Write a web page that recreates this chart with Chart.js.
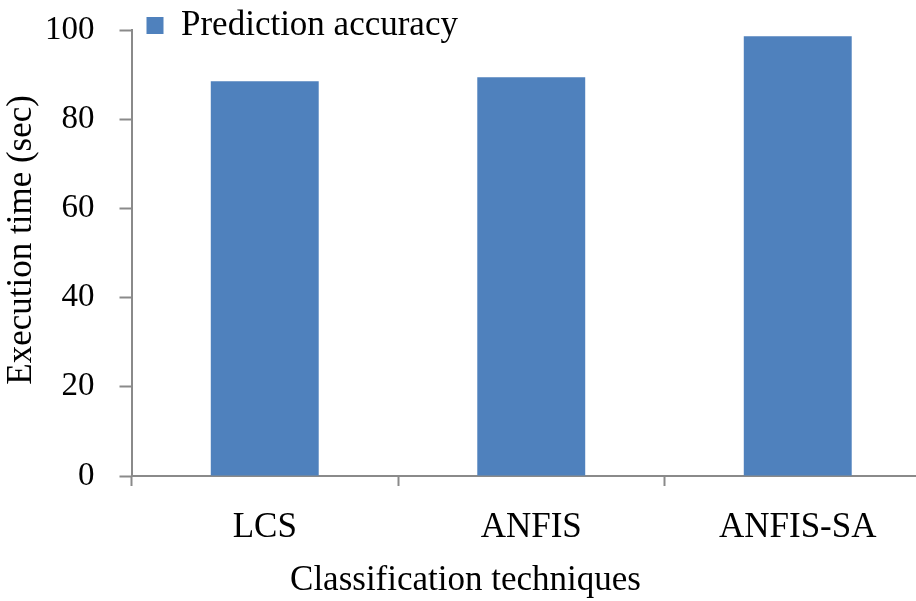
<!DOCTYPE html>
<html>
<head>
<meta charset="utf-8">
<script src="https://cdn.jsdelivr.net/npm/chart.js@4"></script>
<style>
  html, body { margin: 0; padding: 0; background: #fff; overflow: hidden; }
  #wrap { width: 931px; height: 601px; }
</style>
</head>
<body>
<div id="wrap"><canvas id="chart" width="931" height="601"></canvas></div>
<script>
const techniques = ['LCS', 'ANFIS', 'ANFIS-SA'];
const accuracy = [88.5, 89.4, 98.6];
const yTicks = [0, 20, 40, 60, 80, 100];

const axisColor = '#8a8a8a';
const serif = 'Liberation Serif';

// the legend gets less room than it wants (negative top padding), so push its drawing back down
const legendNudge = {
    id: 'legendNudge',
    afterLayout(chart) {
        chart.legend.top += 23;
        chart.legend.bottom += 23;
    }
};

const ctx = document.getElementById('chart').getContext('2d');
const chart = new Chart(ctx, {
    type: 'bar',
    data: {
        labels: techniques,
        datasets: [{
            label: 'Prediction accuracy',
            data: accuracy,
            backgroundColor: '#4f81bd',
            borderWidth: 0,
            categoryPercentage: 1,
            barPercentage: 0.405
        }]
    },
    plugins: [legendNudge],
    options: {
        responsive: false,
        animation: false,
        layout: { padding: { top: -30, left: 0, right: 0, bottom: 0 } },
        plugins: {
            legend: {
                position: 'top',
                align: 'start',
                fullSize: false,
                labels: {
                    boxWidth: 17,
                    boxHeight: 17,
                    padding: 15,
                    color: '#000',
                    font: { family: serif, size: 35 }
                }
            },
            // x-axis title, centred on the whole figure like the original
            title: {
                display: true,
                position: 'bottom',
                text: 'Classification techniques',
                color: '#000',
                padding: { top: -10, bottom: -1 },
                font: { family: serif, size: 35, weight: 'normal' }
            },
            tooltip: { enabled: false }
        },
        scales: {
            x: {
                grid: {
                    drawOnChartArea: false,
                    tickLength: 10,
                    tickColor: axisColor,
                    tickWidth: 2
                },
                border: { color: axisColor, width: 2 },
                ticks: {
                    color: '#000',
                    padding: 21,
                    font: { family: serif, size: 35 }
                }
            },
            y: {
                min: 0,
                max: 100,
                afterBuildTicks(axis) {
                    axis.ticks = yTicks.map(v => ({ value: v }));
                },
                // tick padding would otherwise keep the plot top too low
                afterFit(axis) {
                    axis.paddingTop = 0;
                },
                grid: {
                    drawOnChartArea: false,
                    tickLength: 12,
                    tickColor: axisColor,
                    tickWidth: 2
                },
                border: { color: axisColor, width: 2 },
                ticks: {
                    color: '#000',
                    padding: 25,
                    font: { family: serif, size: 33 }
                },
                title: {
                    display: true,
                    text: '   Execution time (sec)',
                    color: '#000',
                    padding: { top: 1, bottom: -23 },
                    font: { family: serif, size: 35 }
                }
            }
        }
    }
});
</script>
</body>
</html>
